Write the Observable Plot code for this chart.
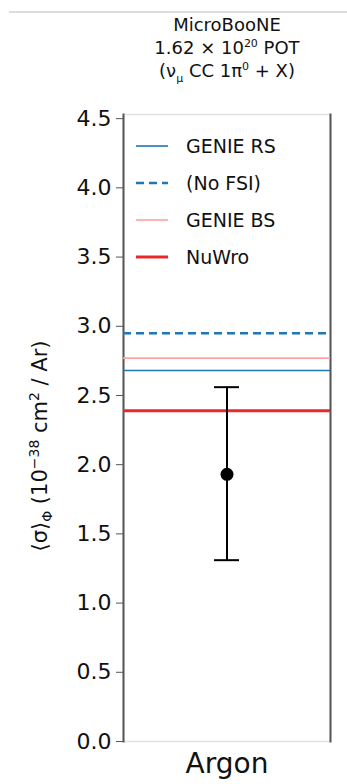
<!DOCTYPE html>
<html>
<head>
<meta charset="utf-8">
<script src="https://cdn.jsdelivr.net/npm/d3@7"></script>
<script src="https://cdn.jsdelivr.net/npm/@observablehq/plot@0.6"></script>
<style>
  body { margin: 0; background: #fff; font-family: "DejaVu Sans", sans-serif; }
  #wrap { position: relative; width: 347px; height: 784px; overflow: hidden; }
  #topline { position: absolute; left: 9px; right: 0; top: 11px; border-top: 2px solid #ddd; }
  #title { position: absolute; left: 114px; width: 226px; top: 13px; text-align: center; font-size: 18px; line-height: 23px; color: #111; }
  #title sup { font-size: 11px; line-height: 0; }
  #title sub { font-size: 11px; line-height: 0; }
  #ylabel { position: absolute; left: 40px; top: 446px; transform: translate(-50%, -50%) rotate(-90deg); white-space: nowrap; font-size: 21px; color: #111; }
  #ylabel sup, #ylabel sub { font-size: 14px; line-height: 0; }
  #legend { position: absolute; left: 136px; top: 127px; font-size: 19px; color: #111; }
  #legend .row { display: flex; align-items: center; height: 37px; }
  #legend svg { margin-right: 18px; }
  #chart { position: absolute; left: 0; top: 0; }
</style>
</head>
<body>
<div id="wrap">
  <div id="chart"></div>
  <div id="topline"></div>
  <div id="title">MicroBooNE<br>1.62 × 10<sup>20</sup> POT<br>(ν<sub>μ</sub> CC 1π<sup>0</sup> + X)</div>
  <div id="ylabel">⟨σ⟩<sub>Φ</sub> (10<sup>−38</sup> cm<sup>2</sup> / Ar)</div>
  <div id="legend"></div>
</div>
<script>
// Data
const categories = ["Argon"];
const measured = [1.93];
const errLow = [1.31];
const errHigh = [2.56];
const modelNames = ["GENIE RS", "(No FSI)", "GENIE BS", "NuWro"];
const modelValues = [2.68, 2.95, 2.77, 2.39];
const modelColors = ["#1f77b4", "#1f77b4", "#ffa3a3", "#e8292b"];
const modelWidths = [1.6, 2.6, 1.6, 3];
const modelDash = [null, "8,5", null, null];
const yTicks = [0, 0.5, 1, 1.5, 2, 2.5, 3, 3.5, 4, 4.5];

const points = categories.map((c, i) => ({cat: c, y: measured[i], lo: errLow[i], hi: errHigh[i]}));
const models = modelNames.map((n, i) => ({name: n, value: modelValues[i], color: modelColors[i], width: modelWidths[i], dash: modelDash[i]}));

const chart = Plot.plot({
  width: 347,
  height: 784,
  marginLeft: 123,
  marginRight: 17,
  marginTop: 114,
  marginBottom: 43,
  style: {fontFamily: "DejaVu Sans, sans-serif", fontSize: "22px", color: "#111", background: "transparent"},
  x: {type: "band", domain: categories, paddingOuter: 3.6, paddingInner: 0, label: null},
  y: {domain: [0, 4.53], label: null},
  marks: [
    Plot.frame({stroke: "#e2e2e2", strokeWidth: 1.5}),
    Plot.frame({anchor: "left", stroke: "#555", strokeWidth: 2}),
    Plot.frame({anchor: "right", stroke: "#555", strokeWidth: 2}),
    Plot.axisY({ticks: yTicks, tickFormat: d3.format(".1f"), tickSize: 7, tickPadding: 5, stroke: "#555", label: null}),
    Plot.axisX({tickSize: 0, tickPadding: 12, fontSize: 28, label: null}),
    ...models.map(m => Plot.ruleY([m], {y: "value", stroke: m.color, strokeWidth: m.width, strokeDasharray: m.dash})),
    Plot.ruleX(points, {x: "cat", y1: "lo", y2: "hi", stroke: "#000", strokeWidth: 2}),
    Plot.tickY(points, {x: "cat", y: "lo", stroke: "#000", strokeWidth: 2}),
    Plot.tickY(points, {x: "cat", y: "hi", stroke: "#000", strokeWidth: 2}),
    Plot.dot(points, {x: "cat", y: "y", r: 6.5, fill: "#000"})
  ]
});
document.getElementById("chart").appendChild(chart);

// Legend
const leg = document.getElementById("legend");
models.forEach(m => {
  const row = document.createElement("div");
  row.className = "row";
  row.innerHTML = `<svg width="32" height="6"><line x1="0" x2="32" y1="3" y2="3" stroke="${m.color}" stroke-width="${m.width}" ${m.dash ? `stroke-dasharray="${m.dash}"` : ""}/></svg><span>${m.name}</span>`;
  leg.appendChild(row);
});
</script>
</body>
</html>
